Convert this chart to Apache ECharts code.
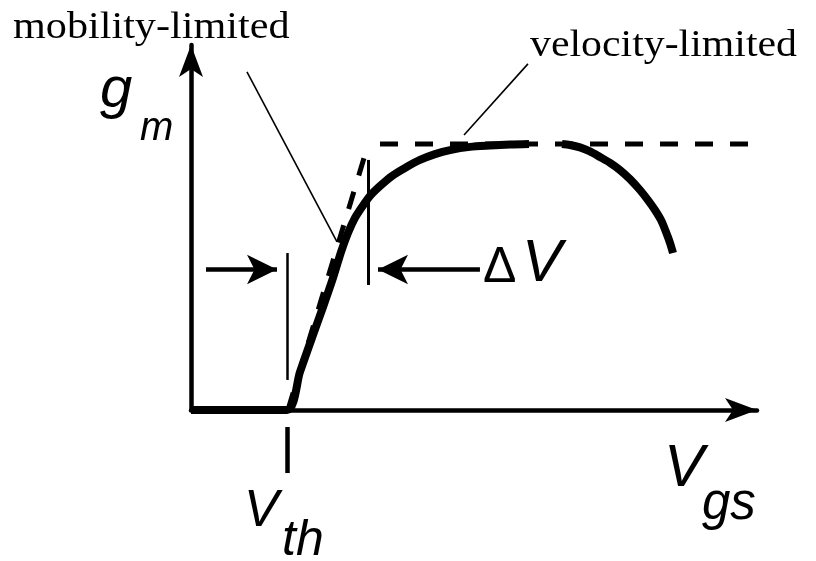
<!DOCTYPE html>
<html>
<head>
<meta charset="utf-8">
<script src="https://cdn.jsdelivr.net/npm/echarts@6/dist/echarts.min.js"></script>
<style>
  html, body { margin: 0; padding: 0; background: #fff; }
  #chart { width: 816px; height: 561px; }
</style>
</head>
<body>
<div id="chart"></div>
<script>
// Transconductance sketch: Vgs normalised to Vth = 1, gm normalised to its saturated value = 1.

// Rising branch (mobility-limited region up to the velocity-limited plateau)
const vgsRise = [0, 1.0, 1.135, 1.26, 1.375, 1.479, 1.563, 1.635, 1.708, 1.781, 1.865, 1.969, 2.094, 2.229, 2.385, 2.542, 2.698, 2.906, 3.115, 3.323, 3.521];
const gmRise  = [0, 0, 0.143, 0.271, 0.387, 0.496, 0.594, 0.665, 0.722, 0.763, 0.805, 0.842, 0.880, 0.910, 0.940, 0.962, 0.977, 0.989, 0.994, 0.998, 1.0];

// High-field roll-off branch
const vgsRoll = [3.865, 3.948, 4.052, 4.156, 4.260, 4.365, 4.469, 4.573, 4.677, 4.760, 4.833, 4.896, 4.948, 4.990, 5.021];
const gmRoll  = [1.0, 0.996, 0.987, 0.972, 0.951, 0.929, 0.902, 0.868, 0.827, 0.789, 0.752, 0.714, 0.669, 0.628, 0.590];

// Asymptotes: tangent of the linear region and the saturated gm level
const vgsTangent = [1.01, 1.802];
const gmTangent  = [0, 0.947];
const vgsPlateau = [1.969, 5.875];
const gmPlateau  = [1.0, 1.0];

// Threshold marker and the two ends of the ΔV interval
const vth = 1.0;
const vthTick = [-0.064, -0.237];
const vthBar = [0.113, 0.590];
const vEdge = 1.844;
const vEdgeBar = [0.470, 0.940];

// ΔV dimension arrows (tail, tip) and their height
const arrowGm = 0.528;
const arrowRight = [0.156, 0.896];
const arrowLeft = [3.010, 1.948];

// Leader lines from the region labels to the curve
const leaderMobility = [[0.583, 1.271], [1.521, 0.632]];
const leaderVelocity = [[3.510, 1.301], [2.844, 1.034]];

const xMax = 5.896;
const yMax = 1.372;

const zip = (xs, ys) => xs.map((x, i) => [x, ys[i]]);

const chart = echarts.init(document.getElementById('chart'), null, { renderer: 'canvas' });

const thinLines = [
  { coords: [[vth, vthBar[0]], [vth, vthBar[1]]], lineStyle: { width: 2.5 } },
  { coords: [[vEdge, vEdgeBar[0]], [vEdge, vEdgeBar[1]]], lineStyle: { width: 3 } },
  { coords: [[vth, vthTick[0]], [vth, vthTick[1]]], lineStyle: { width: 4.5 } },
  { coords: leaderMobility, lineStyle: { width: 1.6 } },
  { coords: leaderVelocity, lineStyle: { width: 1.6 } }
];

const sans = '"Liberation Sans", Arial, sans-serif';
const serif = '"Liberation Serif", "Times New Roman", serif';

function label(text, x, y, font, scaleX) {
  return {
    type: 'text', x: x, y: y, scaleX: scaleX || 1, silent: true,
    style: { text: text, font: font, fill: '#000', textAlign: 'left', textVerticalAlign: 'middle' }
  };
}

const axisArrow = {
  show: true, onZero: false, symbol: ['none', 'arrow'], symbolSize: [18, 32],
  lineStyle: { color: '#000', width: 4.5 }
};

chart.setOption({
  animation: false,
  backgroundColor: '#fff',
  grid: { left: 191, right: 816 - 757, top: 45, bottom: 561 - 410, containLabel: false },
  xAxis: {
    type: 'value', min: 0, max: xMax, axisLine: axisArrow,
    axisTick: { show: false }, axisLabel: { show: false }, splitLine: { show: false }
  },
  yAxis: {
    type: 'value', min: 0, max: yMax, axisLine: axisArrow,
    axisTick: { show: false }, axisLabel: { show: false }, splitLine: { show: false }
  },
  series: [
    {
      type: 'line', name: 'tangent', data: zip(vgsTangent, gmTangent), clip: false,
      symbol: 'none', lineStyle: { color: '#000', width: 5, type: [18, 17], cap: 'butt' }, z: 2
    },
    {
      type: 'line', name: 'plateau', data: zip(vgsPlateau, gmPlateau), clip: false,
      symbol: 'none', lineStyle: { color: '#000', width: 5, type: [18, 17], cap: 'butt' }, z: 2
    },
    {
      type: 'line', name: 'gm rise', data: zip(vgsRise, gmRise), clip: false, smooth: 0.25,
      symbol: 'none', lineStyle: { color: '#000', width: 8, cap: 'butt', join: 'round' }, z: 3
    },
    {
      type: 'line', name: 'gm roll-off', data: zip(vgsRoll, gmRoll), clip: false, smooth: 0.3,
      symbol: 'none', lineStyle: { color: '#000', width: 8, cap: 'butt', join: 'round' }, z: 3
    },
    {
      type: 'lines', coordinateSystem: 'cartesian2d', clip: false, silent: true,
      symbol: 'none', lineStyle: { color: '#000', opacity: 1, curveness: 0 },
      data: thinLines, z: 2
    },
    {
      type: 'lines', coordinateSystem: 'cartesian2d', clip: false, silent: true,
      symbol: ['none', 'arrow'], symbolSize: [[22, 30], [22, 30]],
      lineStyle: { color: '#000', width: 4.5, opacity: 1, curveness: 0 },
      itemStyle: { color: '#000' },
      data: [
        { coords: [[arrowRight[0], arrowGm], [arrowRight[1], arrowGm]] },
        { coords: [[arrowLeft[0], arrowGm], [arrowLeft[1], arrowGm]] }
      ],
      z: 2
    }
  ],
  graphic: [
    label('mobility-limited', 13, 28, '38px ' + serif, 1.11),
    label('velocity-limited', 530, 46, '38px ' + serif, 1.1),
    label('\u0394', 483, 268, '50px ' + sans),
    label('V', 522, 264, 'italic 60px ' + sans),
    label('g', 100, 91, 'italic 58px ' + sans),
    label('m', 140, 129, 'italic 40px ' + sans),
    label('V', 664, 469, 'italic 60px ' + sans),
    label('gs', 702, 505, 'italic 51px ' + sans),
    label('V', 244, 512, 'italic 52px ' + sans),
    label('th', 282, 541, 'italic 50px ' + sans)
  ]
});
</script>
</body>
</html>
